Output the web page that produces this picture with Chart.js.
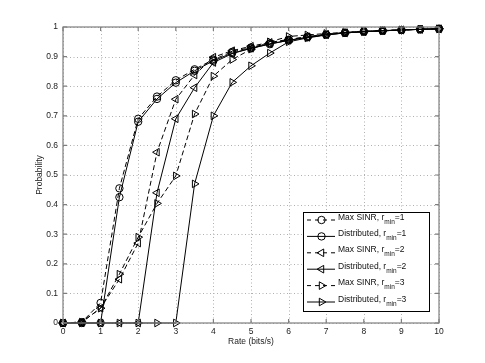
<!DOCTYPE html>
<html>
<head>
<meta charset="utf-8">
<script src="https://cdn.jsdelivr.net/npm/chart.js@4.4.1/dist/chart.umd.min.js"></script>
<style>
  html, body { margin: 0; padding: 0; background: #fff; }
  #wrap { width: 485px; height: 363px; }
</style>
</head>
<body>
<div id="wrap"><canvas id="chart" width="485" height="363"></canvas></div>
<script>
const rates = [0, 0.5, 1, 1.5, 2, 2.5, 3, 3.5, 4, 4.5, 5, 5.5, 6, 6.5, 7, 7.5, 8, 8.5, 9, 9.5, 10];

const maxSinr1 = [0, 0.003, 0.068, 0.455, 0.690, 0.765, 0.820, 0.857, 0.890, 0.916, 0.931, 0.945, 0.957, 0.967, 0.975, 0.981, 0.985, 0.988, 0.990, 0.992, 0.994];
const dist1 = [0, 0, 0, 0.425, 0.680, 0.757, 0.812, 0.852, 0.886, 0.912, 0.928, 0.942, 0.955, 0.965, 0.974, 0.980, 0.984, 0.987, 0.990, 0.992, 0.994];
const maxSinr2 = [0, 0.003, 0.050, 0.148, 0.270, 0.577, 0.756, 0.838, 0.898, 0.920, 0.935, 0.948, 0.958, 0.967, 0.975, 0.981, 0.985, 0.988, 0.990, 0.992, 0.994];
const dist2 = [0, 0, 0, 0, 0, 0.440, 0.690, 0.795, 0.880, 0.910, 0.928, 0.943, 0.955, 0.965, 0.974, 0.980, 0.984, 0.987, 0.990, 0.992, 0.994];
const maxSinr3 = [0, 0.003, 0.050, 0.165, 0.290, 0.404, 0.497, 0.706, 0.834, 0.890, 0.925, 0.950, 0.968, 0.973, 0.978, 0.982, 0.986, 0.988, 0.990, 0.992, 0.994];
const dist3 = [0, 0, 0, 0, 0, 0, 0, 0.470, 0.700, 0.813, 0.869, 0.912, 0.950, 0.963, 0.973, 0.980, 0.984, 0.987, 0.990, 0.992, 0.994];

const xTicks = [0, 1, 2, 3, 4, 5, 6, 7, 8, 9, 10];
const yTicks = [0, 0.1, 0.2, 0.3, 0.4, 0.5, 0.6, 0.7, 0.8, 0.9, 1];

const seriesNames = ["Max SINR", "Distributed", "Max SINR", "Distributed", "Max SINR", "Distributed"];
const rMins = ["1", "1", "2", "2", "3", "3"];

const FONT = "'Liberation Sans', Arial, sans-serif";
const DASH = [5, 3];

const specs = [
  { values: maxSinr1, dash: DASH, style: "circle", rot: 0, r: 3.7 },
  { values: dist1, dash: [], style: "circle", rot: 0, r: 3.7 },
  { values: maxSinr2, dash: DASH, style: "triangle", rot: -90, r: 4.4 },
  { values: dist2, dash: [], style: "triangle", rot: -90, r: 4.4 },
  { values: maxSinr3, dash: DASH, style: "triangle", rot: 90, r: 4.4 },
  { values: dist3, dash: [], style: "triangle", rot: 90, r: 4.4 }
];

const datasets = specs.map((s, i) => ({
  label: `${seriesNames[i]}, r_min=${rMins[i]}`,
  data: rates.map((x, k) => ({ x, y: s.values[k] })),
  borderColor: "#000",
  borderWidth: 1,
  borderDash: s.dash,
  tension: 0,
  fill: false,
  clip: false,
  pointStyle: s.style,
  pointRotation: s.rot,
  pointRadius: s.r,
  pointBorderColor: "#000",
  pointBorderWidth: 1,
  pointBackgroundColor: "rgba(0,0,0,0)"
}));

function drawMarker(ctx, style, rot, r, x, y) {
  ctx.save();
  ctx.setLineDash([]);
  ctx.strokeStyle = "#000";
  ctx.lineWidth = 1;
  ctx.beginPath();
  if (style === "circle") {
    ctx.arc(x, y, r, 0, Math.PI * 2);
  } else {
    let rad = rot * Math.PI / 180;
    for (let k = 0; k < 3; k += 1) {
      const px = x + Math.sin(rad) * r;
      const py = y - Math.cos(rad) * r;
      if (k === 0) ctx.moveTo(px, py); else ctx.lineTo(px, py);
      rad += Math.PI * 2 / 3;
    }
    ctx.closePath();
  }
  ctx.stroke();
  ctx.restore();
}

// dotted matlab-style grid, drawn under the data
const gridPlugin = {
  id: "dotGrid",
  beforeDatasetsDraw(chart) {
    const { ctx, chartArea: a, scales } = chart;
    ctx.save();
    ctx.strokeStyle = "#b0b0b0";
    ctx.lineWidth = 1;
    ctx.setLineDash([1, 2.5]);
    ctx.beginPath();
    xTicks.forEach(v => {
      const px = Math.round(scales.x.getPixelForValue(v)) + 0.5;
      ctx.moveTo(px, a.top); ctx.lineTo(px, a.bottom);
    });
    yTicks.forEach(v => {
      const py = Math.round(scales.y.getPixelForValue(v)) + 0.5;
      ctx.moveTo(a.left, py); ctx.lineTo(a.right, py);
    });
    ctx.stroke();
    ctx.restore();
  }
};

const framePlugin = {
  id: "frame",
  afterDraw(chart) {
    const { ctx, chartArea: a, scales } = chart;
    ctx.save();
    ctx.strokeStyle = "#7f7f7f";
    ctx.lineWidth = 1.2;
    ctx.setLineDash([]);
    ctx.strokeRect(a.left, a.top, a.right - a.left, a.bottom - a.top);

    // inward ticks on all four sides
    ctx.beginPath();
    xTicks.forEach(v => {
      const px = scales.x.getPixelForValue(v);
      ctx.moveTo(px, a.bottom); ctx.lineTo(px, a.bottom - 4);
      ctx.moveTo(px, a.top); ctx.lineTo(px, a.top + 4);
    });
    yTicks.forEach(v => {
      const py = scales.y.getPixelForValue(v);
      ctx.moveTo(a.left, py); ctx.lineTo(a.left + 4, py);
      ctx.moveTo(a.right, py); ctx.lineTo(a.right - 4, py);
    });
    ctx.stroke();

    // axis titles
    ctx.fillStyle = "#222";
    ctx.font = `8.5px ${FONT}`;
    ctx.textAlign = "center";
    ctx.textBaseline = "middle";
    ctx.fillText("Rate (bits/s)", (a.left + a.right) / 2, 342);
    ctx.translate(40, (a.top + a.bottom) / 2);
    ctx.rotate(-Math.PI / 2);
    ctx.fillText("Probability", 0, 0);
    ctx.restore();

    // legend
    const box = { x: 303, y: 212, w: 126, h: 99 };
    ctx.save();
    ctx.fillStyle = "#fff";
    ctx.fillRect(box.x, box.y, box.w, box.h);
    ctx.strokeStyle = "#000";
    ctx.lineWidth = 1;
    ctx.strokeRect(box.x + 0.5, box.y + 0.5, box.w, box.h);
    specs.forEach((s, i) => {
      const cy = 220 + i * 16.4;
      ctx.beginPath();
      ctx.setLineDash(s.dash.length ? [4, 4] : []);
      ctx.moveTo(307, cy);
      ctx.lineTo(335, cy);
      ctx.stroke();
      drawMarker(ctx, s.style, s.rot, s.r, 321.5, cy);

      ctx.fillStyle = "#111";
      ctx.textAlign = "left";
      ctx.textBaseline = "alphabetic";
      ctx.font = `8.5px ${FONT}`;
      let tx = 338;
      const base = cy - 0.5;
      const head = `${seriesNames[i]}, r`;
      ctx.fillText(head, tx, base);
      tx += ctx.measureText(head).width;
      ctx.font = `6.5px ${FONT}`;
      ctx.fillText("min", tx, base + 4);
      tx += ctx.measureText("min").width;
      ctx.font = `8.5px ${FONT}`;
      ctx.fillText(`=${rMins[i]}`, tx, base);
    });
    ctx.restore();
  }
};

new Chart(document.getElementById("chart"), {
  type: "line",
  data: { datasets },
  plugins: [gridPlugin, framePlugin],
  options: {
    responsive: false,
    animation: false,
    layout: { padding: { left: 0, right: 46, top: 27, bottom: 0 } },
    plugins: {
      legend: { display: false },
      tooltip: { enabled: false }
    },
    scales: {
      x: {
        type: "linear",
        min: 0,
        max: 10,
        afterFit(scale) { scale.height = 40; },
        afterBuildTicks(scale) { scale.ticks = xTicks.map(v => ({ value: v })); },
        ticks: {
          color: "#222",
          padding: 4,
          maxRotation: 0,
          font: { family: FONT, size: 8.5 },
          callback: v => String(v)
        },
        grid: { display: false, drawTicks: false },
        border: { display: false }
      },
      y: {
        min: 0,
        max: 1,
        afterFit(scale) { scale.width = 63; },
        afterBuildTicks(scale) { scale.ticks = yTicks.map(v => ({ value: v })); },
        ticks: {
          color: "#222",
          padding: 5,
          font: { family: FONT, size: 8.5 },
          callback: v => (v === 0 ? "0" : v === 1 ? "1" : v.toFixed(1))
        },
        grid: { display: false, drawTicks: false },
        border: { display: false }
      }
    }
  }
});
</script>
</body>
</html>
